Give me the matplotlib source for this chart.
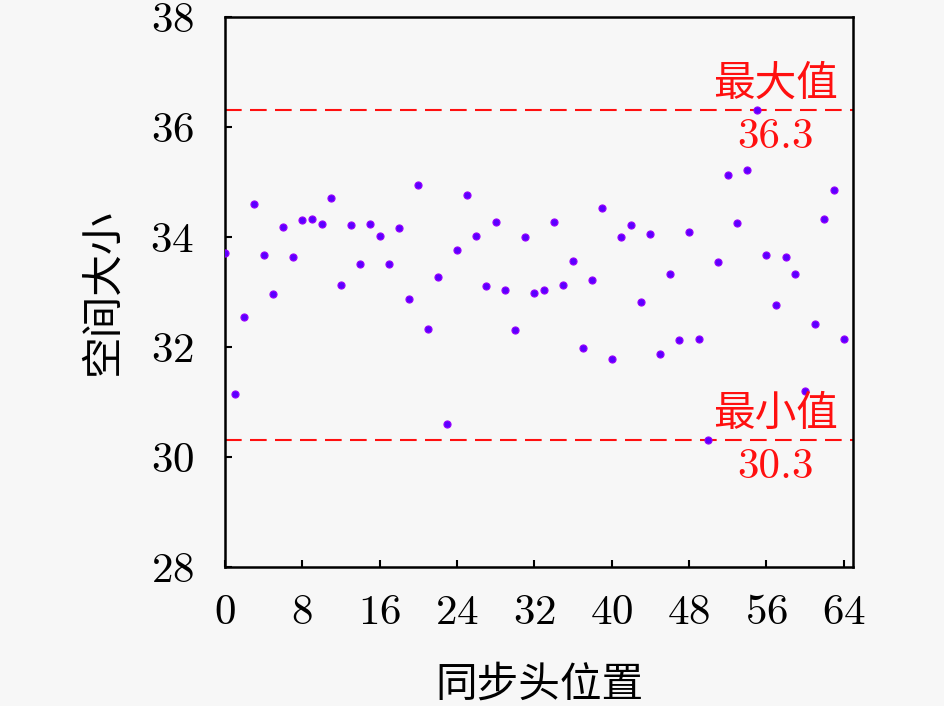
import matplotlib
matplotlib.use('Agg')
import matplotlib.pyplot as plt
import numpy as np

plt.rcParams['font.family'] = ['cmr10', 'Noto Sans CJK SC', 'DejaVu Sans']
plt.rcParams['axes.unicode_minus'] = False
plt.rcParams['axes.formatter.use_mathtext'] = True

# sync head position 0..64 and space size
positions = list(range(65))
sizes = [33.70, 31.14, 32.54, 34.60, 33.68, 32.97, 34.18, 33.63, 34.30, 34.33,
         34.23, 34.70, 33.13, 34.21, 33.50, 34.23, 34.01, 33.51, 34.16, 32.87,
         34.94, 32.33, 33.27, 30.59, 33.77, 34.76, 34.01, 33.10, 34.27, 33.04,
         32.31, 34.00, 32.98, 33.04, 34.27, 33.12, 33.56, 31.98, 33.21, 34.52,
         31.78, 33.99, 34.21, 32.82, 34.05, 31.87, 33.32, 32.12, 34.09, 32.15,
         30.30, 33.55, 35.13, 34.25, 35.21, 36.30, 33.68, 32.76, 33.63, 33.33,
         31.20, 32.41, 34.32, 34.85, 32.15]
max_val = 36.3
min_val = 30.3
xticks = [0, 8, 16, 24, 32, 40, 48, 56, 64]
yticks = [28, 30, 32, 34, 36, 38]

fig = plt.figure(figsize=(9.45, 7.06), dpi=100)
fig.patch.set_facecolor('#f7f7f7')
ax = fig.add_axes([0.238, 0.197, 0.665, 0.779])
ax.set_facecolor('#f7f7f7')

ax.scatter(positions, sizes, s=26, c='#5a00ff', edgecolors='#9a00ff', linewidths=0.8, zorder=3)

ax.axhline(max_val, color='#ff1010', lw=1.5, dashes=(8, 4), zorder=2)
ax.axhline(min_val, color='#ff1010', lw=1.5, dashes=(8, 4), zorder=2)

ax.text(57, max_val + 0.12, '最大值', color='#ff1010', fontsize=30, ha='center', va='bottom')
ax.text(57, max_val - 0.14, '%.1f' % max_val, color='#ff1010', fontsize=31, ha='center', va='top')
ax.text(57, min_val + 0.12, '最小值', color='#ff1010', fontsize=30, ha='center', va='bottom')
ax.text(57, min_val - 0.14, '%.1f' % min_val, color='#ff1010', fontsize=31, ha='center', va='top')

ax.set_xlim(0, 65)
ax.set_ylim(28, 38)
ax.set_xticks(xticks)
ax.set_yticks(yticks)
ax.tick_params(direction='in', length=5, width=1.5, labelsize=31, pad=20)
ax.tick_params(axis='y', pad=22)
for sp in ax.spines.values():
    sp.set_linewidth(1.8)

ax.set_xlabel('同步头位置', fontsize=30, labelpad=24)
ax.set_ylabel('空间大小', fontsize=30, labelpad=20)

fig.savefig('out.png', dpi=100, facecolor=fig.get_facecolor())
